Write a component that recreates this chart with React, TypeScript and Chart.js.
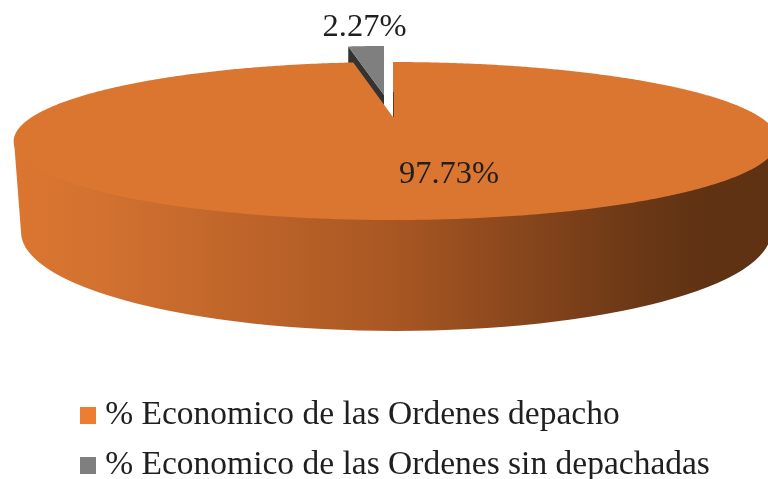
import React, { useEffect, useRef } from "react";
import { Chart, registerables } from "chart.js";

Chart.register(...registerables);

const categories = [
  "% Economico de las Ordenes depacho",
  "% Economico de las Ordenes sin depachadas",
];
const shares = [97.73, 2.27];
const legendColors = ["#ED7D31", "#7F7F7F"];
const topColors = ["#DB7630", "#7F7F7F"];
const FONT = '"Liberation Serif", "Times New Roman", serif';

// Perspective view of the pie's flat disc
const CX = 393;
const APEX_Y = 117;
const B = 364;
const A = 71.7;
const K = 0.304;
const project = (theta: number): [number, number] => {
  const u = Math.cos(theta);
  const v = Math.sin(theta);
  const w = 1 - K * v;
  return [CX + 3 * u * u + (B * u) / w, APEX_Y + (A * v) / w];
};

const pie3d = {
  id: "pie3d",
  beforeDatasetsDraw(chart: any) {
    const { ctx } = chart;
    const arcs = chart.getDatasetMeta(0).data;
    const big = arcs[0];
    const small = arcs[1];
    ctx.save();

    // detached small slice
    const tipX = 384;
    const tipY = 95;
    const place = (t: number): [number, number] => {
      const p = project(t);
      return [tipX + (p[0] - CX) * 0.9, p[1] - 16];
    };
    const p0 = place(small.startAngle);
    ctx.fillStyle = "#333333";
    ctx.beginPath();
    ctx.moveTo(p0[0], p0[1]);
    ctx.lineTo(tipX, tipY);
    ctx.lineTo(tipX, tipY + 40);
    ctx.lineTo(p0[0], p0[1] + 40);
    ctx.closePath();
    ctx.fill();
    ctx.fillStyle = topColors[1];
    ctx.beginPath();
    ctx.moveTo(tipX, tipY);
    for (let i = 0; i <= 16; i++) {
      const t = small.startAngle + ((small.endAngle - small.startAngle) * i) / 16;
      const p = place(t);
      ctx.lineTo(p[0], p[1]);
    }
    ctx.closePath();
    ctx.fill();

    // wall of the large slice
    const grad = ctx.createLinearGradient(14, 0, 768, 0);
    grad.addColorStop(0, "#DB7630");
    grad.addColorStop(0.12, "#D27130");
    grad.addColorStop(0.5, "#A95723");
    grad.addColorStop(0.8, "#703A17");
    grad.addColorStop(0.92, "#5E3213");
    grad.addColorStop(1, "#5E3213");
    ctx.fillStyle = grad;
    ctx.beginPath();
    ctx.moveTo(14, 141);
    ctx.lineTo(21, 232);
    ctx.ellipse(396, 232, 375, 99, 0, Math.PI, 0, true);
    ctx.lineTo(778, 141);
    ctx.closePath();
    ctx.fill();

    // top of the large slice
    ctx.fillStyle = topColors[0];
    ctx.beginPath();
    ctx.moveTo(CX, APEX_Y);
    const steps = 720;
    for (let i = 0; i <= steps; i++) {
      const t = big.startAngle + ((big.endAngle - big.startAngle) * i) / steps;
      const p = project(t);
      ctx.lineTo(p[0], p[1]);
    }
    ctx.closePath();
    ctx.fill();

    // thin visible cut face
    ctx.strokeStyle = "#6B3A18";
    ctx.lineWidth = 1;
    ctx.beginPath();
    ctx.moveTo(CX + 0.5, APEX_Y);
    ctx.lineTo(CX + 0.5, 92);
    ctx.stroke();

    // value labels
    ctx.fillStyle = "#1F1F1F";
    ctx.font = `32.5px ${FONT}`;
    ctx.textAlign = "center";
    ctx.textBaseline = "middle";
    const values = chart.data.datasets[0].data;
    ctx.fillText(`${values[0].toFixed(2)}%`, 449, 174);
    ctx.fillText(`${values[1].toFixed(2)}%`, 364.5, 27);
    ctx.restore();
    return false;
  },
};

const swatch = (color: string) => {
  const c = document.createElement("canvas");
  c.width = 16;
  c.height = 17;
  const g = c.getContext("2d")!;
  g.fillStyle = color;
  g.fillRect(0, 0, 16, 17);
  return c;
};

export default function App() {
  const ref = useRef<HTMLCanvasElement>(null);
  useEffect(() => {
    const chart = new Chart(ref.current!, {
      type: "pie",
      data: {
        labels: categories,
        datasets: [{ data: shares, backgroundColor: legendColors, borderWidth: 0 }],
      },
      plugins: [pie3d],
      options: {
        animation: false,
        responsive: false,
        layout: { padding: { left: 71, bottom: 0 } },
        plugins: {
          tooltip: { enabled: false },
          legend: {
            position: "bottom",
            align: "start",
            labels: {
              color: "#1F1F1F",
              font: { family: FONT, size: 33.5 },
              padding: 16.5,
              boxWidth: 1,
              usePointStyle: true,
              generateLabels: () =>
                categories.map((text, i) => ({
                  text,
                  pointStyle: swatch(legendColors[i]),
                  fontColor: "#1F1F1F",
                  datasetIndex: 0,
                  index: i,
                  lineWidth: 0,
                })),
            },
          },
        },
      },
    } as any);
    return () => chart.destroy();
  }, []);
  return (
    <div style={{ position: "fixed", left: 0, top: 0, width: 768, height: 479, overflow: "hidden", background: "#fff" }}>
      <canvas ref={ref} width={768} height={492} style={{ display: "block" }} />
    </div>
  );
}
